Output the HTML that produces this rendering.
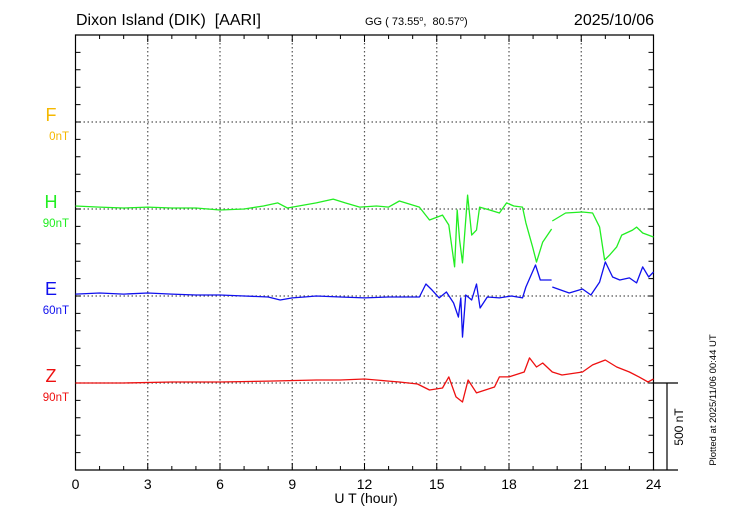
<!DOCTYPE html>
<html><head><meta charset="utf-8"><style>
html,body{margin:0;padding:0;background:#fff;width:730px;height:520px;overflow:hidden}
svg{display:block;font-family:"Liberation Sans",Arial,sans-serif}
</style></head><body>
<svg id="chart" width="730" height="520" viewBox="0 0 730 520" xmlns="http://www.w3.org/2000/svg">
<rect width="730" height="520" fill="#fff"/>
<text x="76" y="25" font-size="16" fill="#000">Dixon Island (DIK)&#160; [AARI]</text>
<text x="365" y="25" font-size="11" fill="#000">GG ( 73.55<tspan font-size="7" dy="-4">o</tspan><tspan dy="4">,&#160; 80.57</tspan><tspan font-size="7" dy="-4">o</tspan><tspan dy="4">)</tspan></text>
<text x="654" y="25" font-size="16" text-anchor="end" fill="#000">2025/10/06</text>
<g id="grid"></g>
<g id="axes"></g>
<g id="series"></g>
<g id="labels"></g>
<text x="366" y="503" font-size="14" text-anchor="middle" fill="#000">U T (hour)</text>
<text transform="translate(683,427) rotate(-90)" font-size="12" text-anchor="middle" fill="#000">500 nT</text>
<text transform="translate(716,400) rotate(-90)" font-size="9.5" text-anchor="middle" fill="#000">Plotted at 2025/11/06 00:44 UT</text>
</svg>
<script>
const xTicks = [0,3,6,9,12,15,18,21,24];
const hT = [0,1,2,3,4,5,6,7,7.8,8.4,8.8,9.5,10,10.7,11.2,11.8,12.5,13,13.45,14.28,14.7,15.24,15.5,15.74,15.85,15.95,16.07,16.28,16.45,16.65,16.78,17.2,17.6,17.9,18.2,18.56,18.7,18.98,19.14,19.4,19.77,19.78,19.8,20.35,21.05,21.47,21.76,21.97,22.18,22.47,22.68,23.13,23.3,23.55,24];
const hV = [17,11,6,11,6,6,-6,0,17,35,6,23,35,57,35,11,17,11,46,11,-63,-35,-92,-333,-6,-178,-310,80,-150,-121,11,-6,-23,35,17,11,-80,-218,-305,-190,-115,null,-69,-23,-17,-23,-104,-293,-264,-218,-150,-121,-104,-138,-161];
const eT = [0,1,2,3,4,5,6,7,8,8.5,9,9.5,10,11,12,13,13.45,14.28,14.55,14.8,15.1,15.4,15.7,15.9,16.0,16.07,16.2,16.45,16.65,16.8,17.1,17.6,18.1,18.56,18.7,19.1,19.3,19.77,19.78,19.8,20.5,21.05,21.4,21.76,22.0,22.3,22.6,23.0,23.3,23.55,23.8,24];
const eV = [11,17,11,17,11,6,6,0,-6,-23,-11,-6,0,-6,-11,-6,-6,-6,69,35,-11,23,-40,-121,-11,-236,6,-23,69,-69,-6,-11,0,-11,52,178,92,92,null,52,17,40,6,80,196,109,92,104,75,167,109,138];
const zT = [0,2,4,6,8,10,11,12,13,13.45,14.2,14.7,15.24,15.5,15.8,16.07,16.3,16.65,17.4,17.6,18.0,18.63,18.85,19.14,19.4,19.8,20.2,21.05,21.47,22.0,22.47,23.0,23.4,23.77,24];
const zV = [0,0,6,6,11,17,17,23,11,6,-6,-40,-29,35,-80,-109,17,-57,-23,35,35,63,144,92,115,63,46,63,104,132,92,63,35,6,23];
const compNames = ["F","H","E","Z"];
const compScales = ["0nT","90nT","60nT","90nT"];

const NS="http://www.w3.org/2000/svg";
const X0=75.5, X1=653.5, Y0=35, Y1=470;
const bases=[122,209,296,383];
const colors=["#f5b800","#22ee22","#1010ee","#ee1010"];
const xs=t=>X0+(X1-X0)*t/24;
const ys=(v,b)=>b - v*87/500;
function el(tag,attrs,parent){const e=document.createElementNS(NS,tag);for(const k in attrs)e.setAttribute(k,attrs[k]);parent.appendChild(e);return e;}
const grid=document.getElementById('grid'),axes=document.getElementById('axes'),series=document.getElementById('series'),labels=document.getElementById('labels');
xTicks.slice(1,-1).forEach(t=>{
  const l=el('line',{x1:xs(t),x2:xs(t),y1:Y0,y2:Y1,stroke:'#555','stroke-width':1.2,'stroke-dasharray':'1.5,2.5'},grid);
  
  
});
bases.forEach(b=>{
  const l=el('line',{x1:X0,x2:X1,y1:b,y2:b,stroke:'#555','stroke-width':1.2,'stroke-dasharray':'1.5,2.5'},grid);
  
  
});
const fr=el('path',{d:`M${X0},${Y0}H${X1}V${Y1}H${X0}Z`,fill:'none',stroke:'#000','stroke-width':1.2},axes);


let d='';
for(let h=1;h<24;h++){const x=xs(h);const L=h%3===0?7:4;d+=`M${x},${Y0}v${L}M${x},${Y1}v${-L}`;}
for(let y=Y0+17.4;y<Y1-1;y+=17.4){d+=`M${X0},${y}h5M${X1},${y}h-5`;}
const tk=el('path',{d:d,stroke:'#000','stroke-width':1,fill:'none'},axes);


const sb=el('path',{d:`M${X1},383H678M667,383V470M${X1},470H678`,stroke:'#000','stroke-width':1.2,fill:'none'},axes);


xTicks.forEach(t=>{
  const tx=el('text',{x:xs(t),y:489,'font-size':14,'text-anchor':'middle',fill:'#000'},axes);
  tx.textContent=t;
  
  
});
compNames.forEach((n,i)=>{
  const a=el('text',{x:51,y:bases[i]-1,'font-size':18,'text-anchor':'middle',fill:colors[i]},labels);
  a.textContent=n;
  
  
  const s=el('text',{x:69,y:bases[i]+18,'font-size':11.5,'text-anchor':'end',fill:colors[i]},labels);
  s.textContent=compScales[i];
  
  
});
function draw(T,V,b,c,name){
  let p='',pen=false;
  for(let i=0;i<T.length;i++){
    if(V[i]===null){pen=false;continue;}
    p+=(pen?'L':'M')+xs(T[i]).toFixed(1)+','+ys(V[i],b).toFixed(1);pen=true;
  }
  const pa=el('path',{d:p,fill:'none',stroke:c,'stroke-width':1.3,'stroke-linejoin':'round'},series);
  
  
}
draw(hT,hV,bases[1],colors[1],'h-series-line');
draw(eT,eV,bases[2],colors[2],'e-series-line');
draw(zT,zV,bases[3],colors[3],'z-series-line');
</script>
</body></html>
